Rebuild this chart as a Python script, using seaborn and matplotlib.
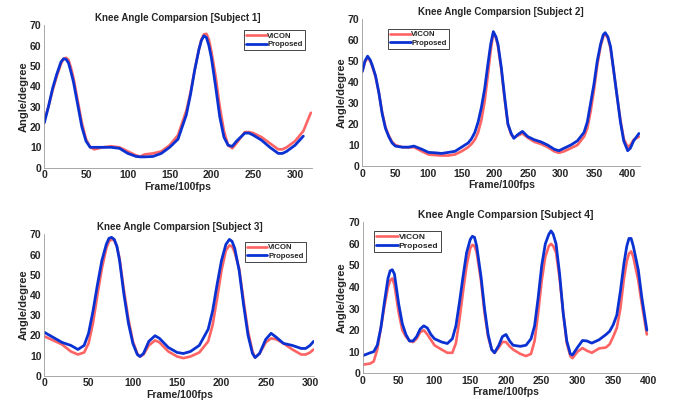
import matplotlib
matplotlib.use("Agg")
import matplotlib.pyplot as plt
import seaborn as sns

# Subject 1
x1_vicon = [0, 5, 10, 15, 20, 23, 26, 29, 32, 35, 40, 45, 50, 55, 60, 65, 70, 80, 90, 100, 110, 115, 120,
            130, 140, 150, 160, 170, 175, 180, 185, 188, 191, 194, 197, 200, 205, 210, 215, 220, 225, 230,
            240, 245, 250, 260, 270, 280, 285, 290, 300, 310, 319]
y1_vicon = [23, 30, 38, 45, 51, 53.5, 54, 53, 49, 44, 33, 22, 14, 10, 9, 9.5, 10, 10.5, 10, 8, 6, 5.5, 6.5,
            7, 8, 11, 16, 28, 37, 48, 58, 63, 65.5, 65.8, 63, 57, 45, 30, 18, 11, 9.5, 12,
            17.5, 17.5, 17, 15, 12, 9, 9, 10, 13, 18, 27]
x1_prop = [0, 5, 10, 15, 20, 23, 26, 29, 32, 35, 40, 45, 50, 55, 60, 65, 70, 80, 90, 100, 110, 115, 120,
           130, 140, 150, 160, 170, 175, 180, 185, 188, 191, 194, 197, 200, 205, 210, 215, 220, 225, 230,
           240, 245, 250, 260, 270, 280, 285, 290, 300, 310]
y1_prop = [22, 30, 39, 46, 52, 53.5, 53.3, 51.5, 47, 42, 31, 20, 13, 10, 10, 10, 10, 10, 9.5, 7, 5.5, 5.3, 5.3,
           5.5, 7, 10, 14, 26, 36, 48, 58, 62.5, 64.8, 64, 60, 54, 40, 25, 15, 11, 10.5, 13,
           17, 17, 16, 13.5, 10, 7, 7, 8, 11, 15.5]

# Subject 2
x2 = [0, 4, 8, 12, 15, 20, 25, 30, 35, 40, 45, 50, 60, 70, 78, 90, 100, 110, 120, 130, 140, 150, 160, 165,
      170, 175, 180, 185, 190, 194, 198, 202, 205, 210, 215, 220, 225, 229, 235, 242, 250, 260, 270, 280,
      290, 297, 305, 315, 325, 330, 335, 340, 345, 350, 355, 360, 364, 367, 371, 375, 380, 385, 390, 395,
      401, 405, 410, 418]
y2_vicon = [45, 49.5, 51.5, 50, 47.5, 42.5, 35, 25.5, 18.5, 14.5, 11.5, 10, 9, 8.8, 9, 7, 5.5, 5.2, 5, 5,
            5.5, 7, 9, 10.5, 12.5, 16, 22, 31, 44, 55, 63.5, 61, 57, 46, 32, 20, 15, 13.5, 14.5, 15.5,
            13.5, 11.5, 10.5, 9, 7, 6.3, 7, 8.5, 10, 12, 14, 18, 26, 36, 48, 57, 61.5, 63, 61, 56,
            45, 33, 22, 13, 9, 10, 12.5, 14]
y2_prop = [45, 50, 52.3, 50.5, 48, 43, 35, 25, 18, 14, 11, 9.5, 9, 9, 9.5, 8, 6.5, 6.3, 6, 6.5,
           7, 9, 11, 13, 16, 21, 28, 37, 49, 58, 64, 61.5, 58, 47, 33, 20, 15.5, 13.2, 15, 16.5,
           14, 12.5, 11.5, 10, 8, 7.3, 8.5, 10, 12, 14, 16, 21, 30, 39, 50, 58, 62.5, 63.5, 61.5, 57,
           45, 33, 21, 12, 7.3, 8.5, 12, 15.5]

# Subject 3
x3 = [0, 10, 20, 30, 38, 45, 50, 55, 60, 65, 70, 73, 76, 79, 82, 85, 90, 95, 100, 105, 108, 112, 118, 125,
      130, 140, 150, 157, 165, 175, 185, 190, 195, 200, 205, 209, 212, 215, 220, 225, 230, 235, 238, 243,
      250, 256, 262, 270, 280, 290, 295, 300, 304]
y3_vicon = [19.5, 17.5, 15.5, 12, 10.5, 11.5, 16, 26, 40, 53, 63, 66.5, 67.5, 67, 64, 58, 42, 28, 17, 11,
            9.5, 10.5, 15, 17.5, 16.5, 12, 9.5, 8.7, 9.5, 11.5, 17, 25, 38, 52, 62, 64.5, 64, 61, 53, 37,
            22, 12, 9, 11, 16.5, 18.5, 18, 16, 13, 10.5, 10.5, 11.5, 13]
y3_prop = [21.5, 19, 16.5, 15, 13, 15, 21, 32, 45, 57, 65, 68, 68.5, 67.5, 64, 57, 40, 26, 16, 10.5,
           9.5, 11, 17, 19.8, 18.5, 14, 11.5, 11, 12, 15, 23, 32, 45, 57, 65, 67.5, 66.5, 63, 52, 35,
           20, 11, 9, 11, 18, 21, 19, 16, 15, 13.5, 13.5, 15, 17]

# Subject 4
x4 = [0, 10, 15, 20, 25, 30, 35, 38, 41, 44, 50, 55, 60, 65, 70, 75, 80, 85, 90, 95, 100, 110, 118, 125,
      130, 135, 140, 145, 150, 153, 156, 159, 165, 170, 175, 180, 184, 190, 195, 200, 205, 210, 220, 228,
      235, 240, 245, 250, 255, 260, 263, 266, 270, 275, 280, 285, 290, 293, 300, 307, 313, 320, 330, 340,
      345, 350, 355, 360, 365, 369, 372, 375, 378, 385, 390, 397]
y4_vicon = [4, 4.5, 5.5, 11, 21, 31, 40, 43, 44, 41, 28, 20, 17, 15, 14.5, 16, 19, 20, 18, 15.5, 13, 11, 9.5,
            9.5, 14, 25, 38, 50, 58, 59.5, 59, 56, 43, 28, 17, 11, 9.5, 12, 14.5, 14.5, 12.5, 11, 9, 8,
            9, 15, 28, 43, 54, 59, 60, 59, 56, 44, 28, 14, 8, 7, 10, 11.7, 10.5, 9.5, 11.5, 12,
            13.5, 17, 21, 30, 44, 52, 55.5, 56.5, 54, 43, 32, 18]
y4_prop = [8.2, 9.5, 10, 13, 21, 33, 44, 47.5, 48, 46, 32, 23, 18, 15, 15, 17, 20.5, 22, 21, 18, 16, 14.5,
           13.8, 16, 22, 33, 45, 56, 62, 63.5, 63, 59, 45, 30, 18, 11, 9.5, 13, 17, 18, 15, 13, 12.5, 13,
           16, 22, 35, 50, 60, 64.5, 66, 64.5, 60, 46, 28, 15, 9, 8.5, 12, 15.2, 15, 14, 15.5, 18,
           19.5, 22.5, 27, 38, 51, 59, 62.5, 62.5, 59, 48, 35, 20]

titles = ["Knee Angle Comparsion [Subject 1]", "Knee Angle Comparsion [Subject 2]",
          "Knee Angle Comparsion [Subject 3]", "Knee Angle Comparsion [Subject 4]"]

sns.set_style("white")
plt.rcParams["font.family"] = ["Liberation Sans", "DejaVu Sans"]
plt.rcParams["font.weight"] = "bold"

red = "#ff6464"
blue = "#0a32d2"
grey = "#262626"

fig = plt.figure(figsize=(6.81, 4.04), dpi=100)
rects = [[0.065, 0.585, 0.3927, 0.3525], [0.532, 0.589, 0.4082, 0.3639],
         [0.065, 0.070, 0.3968, 0.3500], [0.533, 0.076, 0.4200, 0.3738]]
series = [(x1_vicon, y1_vicon, x1_prop, y1_prop), (x2, y2_vicon, x2, y2_prop),
          (x3, y3_vicon, x3, y3_prop), (x4, y4_vicon, x4, y4_prop)]
xlims = [320, 420, 305, 400]
xmaxtick = [300, 400, 300, 400]
leg_loc = [("upper right", (0.974, 0.965), 5.6), ("upper left", (0.094, 0.932), 5.6),
           ("upper right", (0.967, 0.946), 5.6), ("upper left", (0.038, 0.942), 6.1)]
title_fs = [7, 7, 7, 7.4]

for i in range(4):
    ax = fig.add_axes(rects[i])
    xv, yv, xp, yp = series[i]
    sns.lineplot(x=xv, y=yv, ax=ax, color=red, lw=1.9, label="VICON", sort=False,
                 solid_joinstyle="round", solid_capstyle="round")
    sns.lineplot(x=xp, y=yp, ax=ax, color=blue, lw=2.0, label="Proposed", sort=False,
                 solid_joinstyle="round", solid_capstyle="round")
    ax.set_xlim(0, xlims[i])
    ax.set_ylim(0, 70)
    ax.set_xticks(range(0, xmaxtick[i] + 1, 50))
    ax.set_yticks(range(0, 71, 10))
    ax.tick_params(direction="in", length=2.5, width=0.6, labelsize=7.5, colors=grey, pad=2)
    for lab in ax.get_xticklabels() + ax.get_yticklabels():
        lab.set_fontweight("bold")
    for s in ["top", "right"]:
        ax.spines[s].set_visible(False)
    for s in ["left", "bottom"]:
        ax.spines[s].set_color("#9a9a9a")
        ax.spines[s].set_linewidth(0.6)
    ax.set_title(titles[i], fontsize=title_fs[i], fontweight="bold", pad=3)
    ax.set_xlabel("Frame/100fps", fontsize=7.5, fontweight="bold", color=grey, labelpad=1)
    ax.set_ylabel("Angle/degree", fontsize=8, fontweight="bold", color=grey, labelpad=1)
    loc, anchor, fs = leg_loc[i]
    leg = ax.legend(loc=loc, bbox_to_anchor=anchor, fontsize=fs, frameon=True, fancybox=False,
                    edgecolor="#262626", framealpha=1, handlelength=2.6, handletextpad=0.1,
                    borderpad=0.25, labelspacing=0.15, borderaxespad=0)
    leg.get_frame().set_linewidth(0.6)
    for t in leg.get_texts():
        t.set_fontweight("bold")

fig.savefig("out.png", dpi=100)
